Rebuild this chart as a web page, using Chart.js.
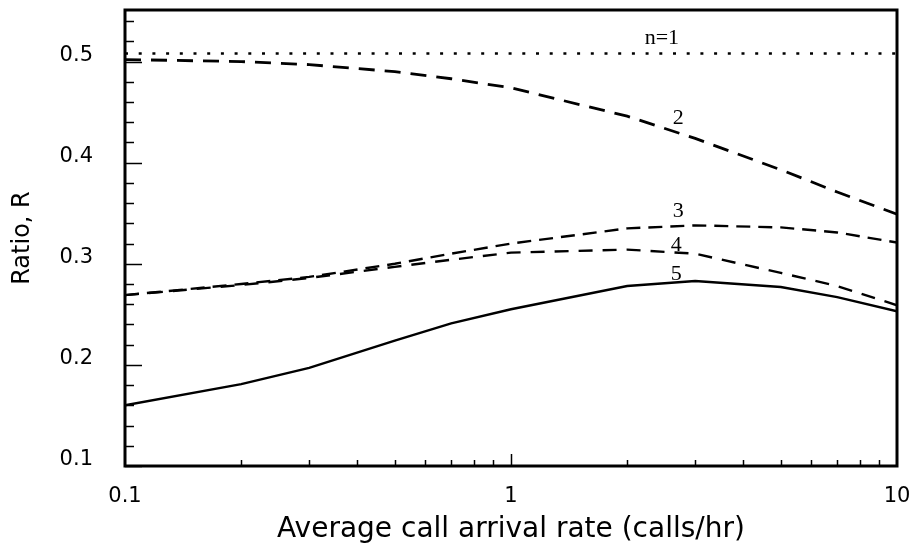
<!DOCTYPE html>
<html>
<head>
<meta charset="utf-8">
<script src="https://cdn.jsdelivr.net/npm/chart.js@4/dist/chart.umd.min.js"></script>
<style>
  body { margin: 0; background: #fff; }
  #wrap { width: 914px; height: 552px; position: relative; }
</style>
</head>
<body>
<div id="wrap"><canvas id="ratioChart"></canvas></div>
<script>
// call arrival rate (calls/hr), log axis
const rates = [0.1, 0.2, 0.3, 0.5, 0.7, 1, 2, 3, 5, 7, 10];

// ratio R for each number of servers n
const ratioN1 = [0.508, 0.508, 0.508, 0.508, 0.508, 0.508, 0.508, 0.508, 0.508, 0.508, 0.508];
const ratioN2 = [0.502, 0.500, 0.497, 0.490, 0.483, 0.474, 0.446, 0.424, 0.393, 0.371, 0.349];
const ratioN3 = [0.269, 0.280, 0.287, 0.300, 0.310, 0.320, 0.335, 0.338, 0.336, 0.331, 0.321];
const ratioN4 = [0.269, 0.279, 0.286, 0.297, 0.304, 0.311, 0.314, 0.310, 0.291, 0.278, 0.259];
const ratioN5 = [0.160, 0.181, 0.197, 0.224, 0.241, 0.255, 0.278, 0.283, 0.277, 0.267, 0.253];

// curve labels, placed in data coordinates
const curveLabels = ["n=1", "2", "3", "4", "5"];
const labelX = [2.46, 2.71, 2.71, 2.68, 2.68];
const labelY = [0.523, 0.444, 0.352, 0.318, 0.290];

const yTicks = [0.1, 0.2, 0.3, 0.4, 0.5];
const xTicks = [0.1, 1, 10];

const toPoints = (ys) => rates.map((r, i) => ({ x: r, y: ys[i] }));

// frame, inward tick marks and curve labels
const decorations = {
    id: "decorations",
    afterDatasetsDraw(chart) {
        const { ctx, chartArea: a, scales: { x, y } } = chart;
        ctx.save();
        ctx.strokeStyle = "#000";

        // minor + major y ticks
        ctx.lineWidth = 1.5;
        for (let k = 5; k <= 27; k++) {
            const v = k * 0.02;
            const py = Math.round(y.getPixelForValue(v)) + 0.5;
            const major = k % 5 === 0;
            ctx.beginPath();
            ctx.moveTo(a.left, py);
            ctx.lineTo(a.left + (major ? 17 : 9), py);
            ctx.stroke();
        }
        // minor + major x ticks
        [0.1, 1].forEach(dec => {
            for (let m = 1; m <= 9; m++) {
                const v = dec * m;
                if (v <= 0.1 || v >= 10) continue;
                const px = Math.round(x.getPixelForValue(v)) + 0.5;
                ctx.beginPath();
                ctx.moveTo(px, a.bottom);
                ctx.lineTo(px, a.bottom - (m === 1 ? 12 : 6));
                ctx.stroke();
            }
        });

        // frame
        ctx.lineWidth = 3;
        ctx.strokeRect(a.left, a.top, a.right - a.left, a.bottom - a.top);

        // curve labels
        ctx.fillStyle = "#000";
        ctx.font = "22px 'Liberation Serif', serif";
        ctx.textAlign = "center";
        ctx.textBaseline = "middle";
        curveLabels.forEach((t, i) => {
            ctx.fillText(t, x.getPixelForValue(labelX[i]), y.getPixelForValue(labelY[i]));
        });
        ctx.restore();
    }
};

const sans = "'DejaVu Sans', sans-serif";

const ratioChart = new Chart(document.getElementById("ratioChart"), {
    type: "line",
    data: {
        datasets: [
            { label: "n=1", data: toPoints(ratioN1), borderDash: [3, 10.7], borderWidth: 2.5 },
            { label: "n=2", data: toPoints(ratioN2), borderDash: [16, 10], borderWidth: 2.8 },
            { label: "n=3", data: toPoints(ratioN3), borderDash: [14, 8], borderWidth: 2.4 },
            { label: "n=4", data: toPoints(ratioN4), borderDash: [14, 10], borderWidth: 2.4 },
            { label: "n=5", data: toPoints(ratioN5), borderWidth: 2.4 }
        ]
    },
    options: {
        responsive: true,
        maintainAspectRatio: false,
        animation: false,
        layout: { padding: { top: 10, right: 17 } },
        elements: {
            line: { borderColor: "#000", tension: 0, fill: false },
            point: { radius: 0 }
        },
        plugins: { legend: { display: false }, tooltip: { enabled: false } },
        scales: {
            x: {
                type: "logarithmic",
                min: 0.1,
                max: 10,
                grid: { display: false, drawTicks: false },
                border: { display: false },
                afterBuildTicks: (s) => { s.ticks = xTicks.map(v => ({ value: v })); },
                afterFit: (s) => {
                    s.height = 86;
                    s.paddingLeft = 0;
                    s.paddingRight = 0;
                },
                ticks: {
                    color: "#000",
                    font: { family: sans, size: 21 },
                    padding: 18,
                    maxRotation: 0,
                    callback: (v) => String(v)
                },
                title: {
                    display: true,
                    text: "Average call arrival rate (calls/hr)",
                    color: "#000",
                    font: { family: sans, size: 28 },
                    padding: { bottom: 5 }
                }
            },
            y: {
                min: 0.1,
                max: 0.551,
                grid: { display: false, drawTicks: false },
                border: { display: false },
                afterBuildTicks: (s) => { s.ticks = yTicks.map(v => ({ value: v })); },
                afterFit: (s) => {
                    s.width = 125;
                    s.paddingTop = 0;
                    s.paddingBottom = 0;
                },
                ticks: {
                    color: "#000",
                    font: { family: sans, size: 21 },
                    padding: 32,
                    labelOffset: -6,
                    callback: (v) => v.toFixed(1)
                },
                title: {
                    display: true,
                    text: "Ratio, R",
                    color: "#000",
                    font: { family: sans, size: 24 },
                    padding: { top: 8 }
                }
            }
        }
    },
    plugins: [decorations]
});
</script>
</body>
</html>
